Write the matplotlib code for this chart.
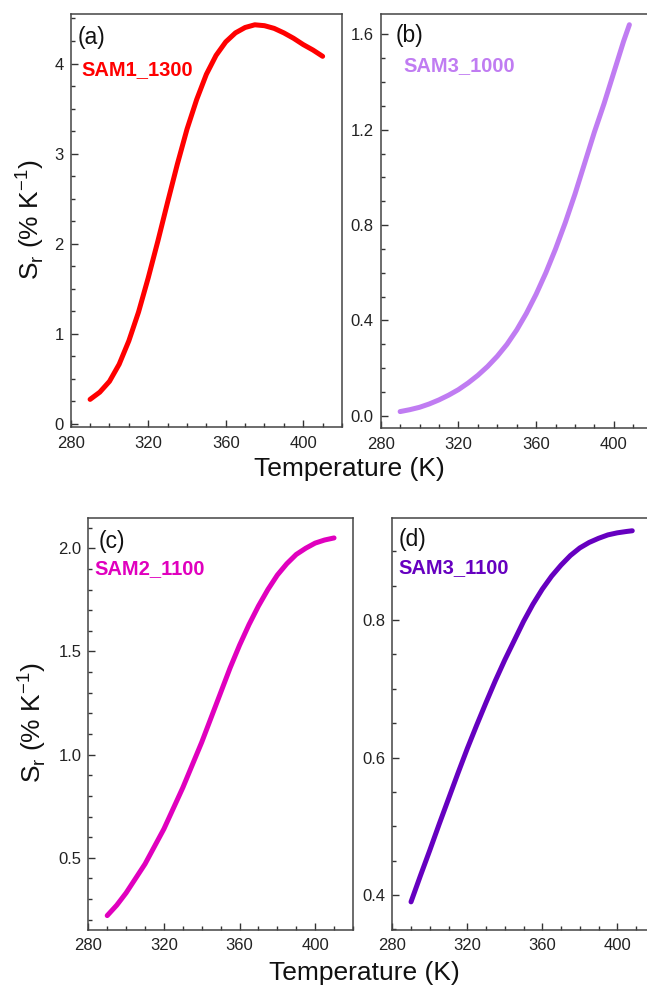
import numpy as np
import matplotlib
matplotlib.use('Agg')
import matplotlib.pyplot as plt
from matplotlib.ticker import MultipleLocator

plt.rcParams['font.family'] = ['Liberation Sans', 'DejaVu Sans']
plt.rcParams['mathtext.fontset'] = 'custom'
plt.rcParams['mathtext.rm'] = 'Liberation Sans'

# data (temperature in K, Sr in % K^-1)
T_a = [290, 295, 300, 305, 310, 315, 320, 325, 330, 335, 340, 345, 350,
       355, 360, 365, 370, 375, 380, 385, 390, 395, 400, 405, 410]
Sr_a = [0.27, 0.35, 0.47, 0.66, 0.92, 1.24, 1.62, 2.03, 2.46, 2.88, 3.27, 3.60, 3.88,
        4.09, 4.24, 4.34, 4.40, 4.43, 4.42, 4.39, 4.34, 4.28, 4.21, 4.15, 4.08]

T_b = [290, 295, 300, 305, 310, 315, 320, 325, 330, 335, 340, 345, 350,
       355, 360, 365, 370, 375, 380, 385, 390, 395, 400, 405, 408]
Sr_b = [0.018, 0.026, 0.036, 0.050, 0.067, 0.087, 0.110, 0.138, 0.170, 0.207, 0.25, 0.30, 0.36,
        0.43, 0.51, 0.60, 0.70, 0.81, 0.93, 1.06, 1.19, 1.31, 1.44, 1.57, 1.64]

T_c = [290, 295, 300, 305, 310, 315, 320, 325, 330, 335, 340, 345, 350,
       355, 360, 365, 370, 375, 380, 385, 390, 395, 400, 405, 410]
Sr_c = [0.22, 0.27, 0.33, 0.40, 0.47, 0.555, 0.64, 0.74, 0.84, 0.95, 1.06, 1.18, 1.30,
        1.42, 1.53, 1.63, 1.72, 1.80, 1.87, 1.925, 1.97, 2.00, 2.025, 2.04, 2.05]

T_d = [290, 295, 300, 305, 310, 315, 320, 325, 330, 335, 340, 345, 350,
       355, 360, 365, 370, 375, 380, 385, 390, 395, 400, 405, 408]
Sr_d = [0.39, 0.428, 0.465, 0.503, 0.54, 0.577, 0.613, 0.647, 0.68, 0.712, 0.742, 0.77, 0.798,
        0.823, 0.845, 0.864, 0.88, 0.894, 0.905, 0.913, 0.919, 0.924, 0.927, 0.929, 0.93]

names = ['SAM1_1300', 'SAM3_1000', 'SAM2_1100', 'SAM3_1100']
tags = ['(a)', '(b)', '(c)', '(d)']
colors = ['#FF0000', '#C07CF2', '#E000BE', '#6600C0']

fig = plt.figure(figsize=(6.47, 9.85), dpi=100)

# axes boxes [left, bottom, width, height] in figure fraction
boxes = [[0.1093, 0.5662, 0.4193, 0.4196],
         [0.5884, 0.5652, 0.4204, 0.4206],
         [0.1365, 0.0558, 0.4090, 0.4186],
         [0.6063, 0.0558, 0.4057, 0.4186]]
ylims = [(-0.04, 4.55), (-0.052, 1.685), (0.15, 2.148), (0.349, 0.949)]
ymajor = [1, 0.4, 0.5, 0.2]
yminor = [0.25, 0.1, 0.1, 0.05]
yfmt = ['%d', '%.1f', '%.1f', '%.1f']
tag_pos = [(0.027, 0.944), (0.055, 0.949), (0.040, 0.9435), (0.0255, 0.948)]
name_pos = [(0.038, 0.8645), (0.082, 0.8745), (0.0227, 0.8756), (0.0229, 0.878)]

data = [(T_a, Sr_a), (T_b, Sr_b), (T_c, Sr_c), (T_d, Sr_d)]

for i in range(4):
    ax = fig.add_axes(boxes[i])
    T, Sr = data[i]
    ax.plot(T, Sr, color=colors[i], lw=3.6, solid_capstyle='round', solid_joinstyle='round')
    ax.set_xlim(280, 420)
    ax.set_ylim(*ylims[i])
    ax.xaxis.set_major_locator(MultipleLocator(40))
    ax.xaxis.set_minor_locator(MultipleLocator(10))
    ax.yaxis.set_major_locator(MultipleLocator(ymajor[i]))
    ax.yaxis.set_minor_locator(MultipleLocator(yminor[i]))
    ax.yaxis.set_major_formatter(matplotlib.ticker.FormatStrFormatter(yfmt[i]))
    ax.tick_params(which='both', direction='in', top=False, right=False,
                   color='#333333', labelcolor='#222222', labelsize=12)
    ax.tick_params(which='major', length=5, width=1.0)
    ax.tick_params(which='minor', length=3, width=1.0)
    ax.tick_params(axis='x', pad=6)
    ax.tick_params(axis='y', pad=5)
    for s in ax.spines.values():
        s.set_color('#444444')
        s.set_linewidth(1.1)
    ax.text(tag_pos[i][0], tag_pos[i][1], tags[i], transform=ax.transAxes,
            fontsize=16.5, ha='left', va='center', color='#111111')
    ax.text(name_pos[i][0], name_pos[i][1], names[i], transform=ax.transAxes,
            fontsize=14.5, fontweight='bold', ha='left', va='center', color=colors[i])

ylab = 'S$_\\mathregular{r}$ (% K$^\\mathregular{-1}$)'
fig.text(30 / 647, 1 - 220 / 985, ylab, rotation=90, ha='center', va='center',
         fontsize=19, color='#111111')
fig.text(32 / 647, 1 - 723 / 985, ylab, rotation=90, ha='center', va='center',
         fontsize=19, color='#111111')
fig.text(349 / 647, 1 - 476 / 985, 'Temperature (K)', ha='center', va='baseline',
         fontsize=19, color='#111111')
fig.text(364 / 647, 1 - 980 / 985, 'Temperature (K)', ha='center', va='baseline',
         fontsize=19, color='#111111')

fig.savefig('out.png', dpi=100)
